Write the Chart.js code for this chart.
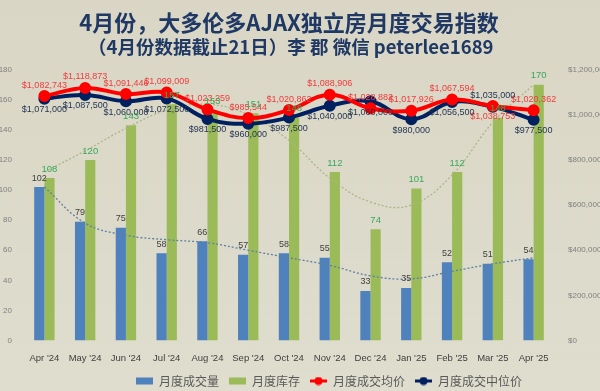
<!DOCTYPE html>
<html lang="zh">
  <head>
    <meta charset="UTF-8" />
    <title>AJAX独立房月度交易指数</title>
    <script src="https://cdn.jsdelivr.net/npm/chart.js"></script>
    <style>
      body { margin: 0; }
      #wrap { width: 600px; height: 391px; background: linear-gradient(#d9d6c5, #dfddce); }
    </style>
  </head>
  <body>
    <div id="wrap"><canvas id="tradeChart"></canvas></div>

    <script>
      const months = ["Apr '24", "May '24", "Jun '24", "Jul '24", "Aug '24", "Sep '24", "Oct '24",
                      "Nov '24", "Dec '24", "Jan '25", "Feb '25", "Mar '25", "Apr '25"];
      const volume = [102, 79, 75, 58, 66, 57, 58, 55, 33, 35, 52, 51, 54];
      const inventory = [108, 120, 143, 157, 153, 151, 148, 112, 74, 101, 112, 148, 170];
      const avgPrice = [1082743, 1118873, 1091446, 1099009, 1023259, 985544, 1020862,
                        1088906, 1028882, 1017926, 1067594, 1038753, 1020362];
      const medianPrice = [1071000, 1087500, 1060000, 1072500, 981500, 960000, 987500,
                           1040000, 1060000, 980000, 1056500, 1035000, 977500];
      // dotted trend lines
      const volumeTrend = [102, 78, 70, 67, 65, 60, 55, 50, 43, 41, 46, 51, 55];
      const inventoryTrend = [112, 126, 141, 153, 157, 150, 133, 108, 92, 90, 110, 145, 170];

      const money = (v) => "$" + v.toLocaleString("en-US");

      // small legend icons
      function icon(kind, color) {
        const c = document.createElement("canvas");
        c.width = 17; c.height = 9;
        const g = c.getContext("2d");
        if (kind === "bar") {
          g.fillStyle = color;
          g.fillRect(0, 1, 17, 7);
        } else {
          g.strokeStyle = color; g.lineWidth = 3;
          g.beginPath(); g.moveTo(0, 4.5); g.lineTo(17, 4.5); g.stroke();
          g.fillStyle = color;
          g.beginPath(); g.arc(8.5, 4.5, 4, 0, Math.PI * 2); g.fill();
        }
        return c;
      }

      const valueLabels = {
        id: "valueLabels",
        afterDatasetsDraw(chart) {
          const ctx = chart.ctx;
          chart.data.datasets.forEach((ds, i) => {
            const st = ds.labelStyle;
            if (!st) return;
            const meta = chart.getDatasetMeta(i);
            ctx.save();
            ctx.font = st.font;
            ctx.fillStyle = st.color;
            ctx.textAlign = "center";
            ctx.textBaseline = "middle";
            meta.data.forEach((el, j) => {
              let below = st.below;
              if (st.swap && st.swap.includes(j)) below = !below;
              const dy = below ? st.gap : -st.gap;
              const txt = st.money ? money(ds.data[j]) : String(ds.data[j]);
              ctx.fillText(txt, el.x, el.y + dy);
            });
            ctx.restore();
          });
        },
      };

      // tighten the legend box and nudge it right, like the excel original
      const legendTweak = {
        id: "legendTweak",
        beforeInit(chart) {
          const fit = chart.legend.fit;
          chart.legend.fit = function () {
            fit.call(this);
            this.height -= 19;
          };
        },
        afterLayout(chart) {
          chart.legend.left += 58;
          chart.legend.top -= 11;
        },
      };

      const ctx = document.getElementById("tradeChart").getContext("2d");
      const defaultLabels = Chart.defaults.plugins.legend.labels.generateLabels;

      new Chart(ctx, {
        type: "bar",
        data: {
          labels: months,
          datasets: [
            {
              type: "line", label: "月度成交均价", data: avgPrice, yAxisID: "y1",
              borderColor: "#ff0000", backgroundColor: "#ff0000", borderWidth: 4,
              pointRadius: 4, pointHoverRadius: 4, tension: 0.4, order: 0,
              legendIcon: icon("line", "#ff0000"),
              labelStyle: { color: "#f03c3c", font: "9px 'Liberation Sans'", gap: 11, below: false, money: true, swap: [11] },
            },
            {
              type: "line", label: "月度成交中位价", data: medianPrice, yAxisID: "y1",
              borderColor: "#002060", backgroundColor: "#002060", borderWidth: 4,
              pointRadius: 4, pointHoverRadius: 4, tension: 0.4, order: 0,
              legendIcon: icon("line", "#002060"),
              labelStyle: { color: "#1f3050", font: "9px 'Liberation Sans'", gap: 11, below: true, money: true, swap: [11] },
            },
            {
              type: "line", label: "trend1", data: volumeTrend, yAxisID: "y",
              borderColor: "#5f7fa0", borderWidth: 1.3, borderDash: [2, 2],
              pointRadius: 0, tension: 0.4, order: 1,
            },
            {
              type: "line", label: "trend2", data: inventoryTrend, yAxisID: "y",
              borderColor: "#adb585", borderWidth: 1.3, borderDash: [2, 2],
              pointRadius: 0, tension: 0.4, order: 1,
            },
            {
              label: "月度成交量", data: volume, yAxisID: "y",
              backgroundColor: "#4f81bd", order: 3,
              categoryPercentage: 0.5, barPercentage: 1.0,
              legendIcon: icon("bar", "#4f81bd"),
              labelStyle: { color: "#404040", font: "9px 'Liberation Sans'", gap: 9, below: false },
            },
            {
              label: "月度库存", data: inventory, yAxisID: "y",
              backgroundColor: "#9bbb59", order: 3,
              categoryPercentage: 0.5, barPercentage: 1.0,
              legendIcon: icon("bar", "#9bbb59"),
              labelStyle: { color: "#3aa85a", font: "9.5px 'Liberation Sans'", gap: 9, below: false },
            },
          ],
        },
        options: {
          responsive: true,
          maintainAspectRatio: false,
          animation: false,
          layout: { padding: { top: 9, bottom: 2, left: 0, right: 0 } },
          plugins: {
            title: {
              display: true,
              text: "4月份，大多伦多AJAX独立房月度交易指数　",
              color: "#1f3864",
              font: { family: "'Noto Sans CJK SC'", size: 22, weight: "bold" },
              padding: { top: 0, bottom: 0 },
            },
            subtitle: {
              display: true,
              text: "（4月份数据截止21日）李 郡 微信 peterlee1689　",
              color: "#1f3864",
              font: { family: "'Noto Sans CJK SC'", size: 18.5, weight: "bold" },
              padding: { top: 0, bottom: 12 },
            },
            legend: {
              position: "bottom",
              labels: {
                usePointStyle: true,
                pointStyleWidth: 17,
                boxHeight: 9,
                padding: 10,
                color: "#595959",
                font: { family: "'Noto Sans CJK SC'", size: 12 },
                filter: (item) => !item.text.startsWith("trend"),
                generateLabels(chart) {
                  const items = defaultLabels(chart);
                  items.forEach((it) => {
                    it.pointStyle = chart.data.datasets[it.datasetIndex].legendIcon;
                  });
                  // bars first, like the original
                  const rank = { "月度成交量": 0, "月度库存": 1, "月度成交均价": 2, "月度成交中位价": 3 };
                  return items.sort((a, b) => (rank[a.text] ?? 9) - (rank[b.text] ?? 9));
                },
              },
            },
            tooltip: { enabled: false },
          },
          scales: {
            x: {
              grid: { display: false, drawTicks: false },
              border: { display: false },
              ticks: { color: "#404040", font: { family: "'Liberation Sans'", size: 9.5 }, padding: 12, maxRotation: 0 },
            },
            y: {
              position: "left",
              min: 0, max: 180,
              grid: { display: false },
              border: { display: false },
              ticks: { stepSize: 20, color: "#808080", font: { family: "'Liberation Sans'", size: 8 }, padding: 4 },
              afterFit: (s) => { s.width = 24; },
            },
            y1: {
              position: "right",
              min: 0, max: 1200000,
              grid: { display: false },
              border: { display: false },
              ticks: { stepSize: 200000, color: "#808080", font: { family: "'Liberation Sans'", size: 8 }, padding: 6, callback: (v) => money(v) },
              afterFit: (s) => { s.width = 46; },
            },
          },
        },
        plugins: [valueLabels, legendTweak],
      });
    </script>
  </body>
</html>
